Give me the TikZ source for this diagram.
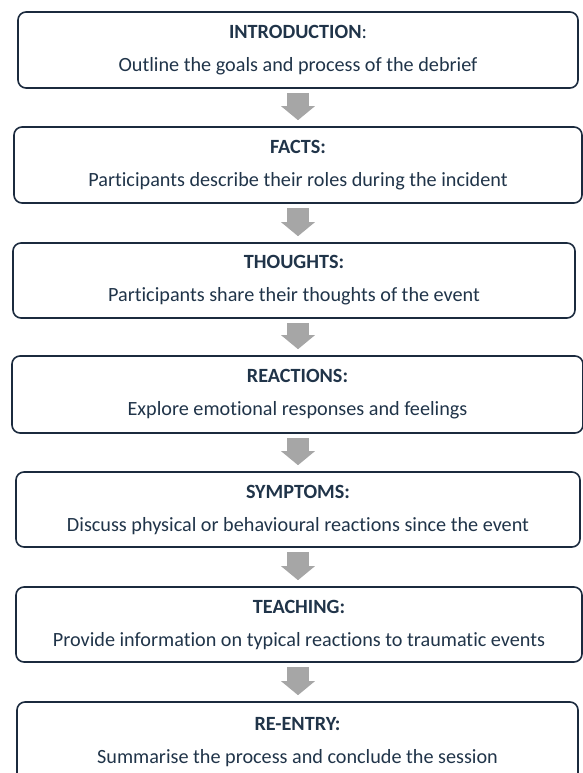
\documentclass[tikz,border=0pt]{standalone}
\usepackage{fontspec}
\setmainfont{Carlito}[Ligatures=CommonOff]
\usetikzlibrary{arrows.meta,positioning}
\definecolor{navy}{HTML}{1B2A3E}
\definecolor{inktext}{HTML}{203449}
\definecolor{flowgrey}{HTML}{A6A6A6}

\begin{document}
\begin{tikzpicture}[
  x=1pt, y=-1pt,
  stage/.style={draw=navy, line width=1.6pt, rounded corners=8pt, minimum height=76pt, align=center, text=inktext, font=\fontsize{20.2}{24}\selectfont, inner sep=0pt},
  flow/.style={-{Triangle[length=14pt, width=33pt]}, draw=flowgrey, line width=22pt, shorten <=4pt, shorten >=6pt}
]
\useasboundingbox (0,0) rectangle (583,773);
\node[stage, minimum width=560pt] (intro) at (298,50) {\textbf{INTRODUCTION}:\\[9pt] Outline the goals and process of the debrief};
\node[stage, minimum width=568pt] (facts) at (298,165) {\textbf{FACTS:}\\[9pt] Participants describe their roles during the incident};
\node[stage, minimum width=562pt, minimum height=75pt] (thoughts) at (294,280.5) {\textbf{THOUGHTS:}\\[9pt] Participants share their thoughts of the event};
\node[stage, minimum width=571pt, minimum height=77pt] (reactions) at (297.5,394.5) {\textbf{REACTIONS:}\\[9pt] Explore emotional responses and feelings};
\node[stage, minimum width=564pt, minimum height=75pt] (symptoms) at (298,509.5) {\textbf{SYMPTOMS:}\\[9pt] Discuss physical or behavioural reactions since the event};
\node[stage, minimum width=566pt, minimum height=75pt] (teaching) at (299,624.5) {\textbf{TEACHING:}\\[9pt] Provide information on typical reactions to traumatic events};
\node[stage, minimum width=561pt, minimum height=80pt] (reentry) at (297.5,742) {\textbf{RE-ENTRY:}\\[9pt] Summarise the process and conclude the session};
\draw[flow] (intro) -- (facts);
\draw[flow] (facts) -- (thoughts.north -| facts.south);
\draw[flow] (thoughts.south -| facts.south) -- (reactions.north -| facts.south);
\draw[flow] (reactions.south -| facts.south) -- (symptoms.north -| facts.south);
\draw[flow] (symptoms) -- (teaching.north -| symptoms.south);
\draw[flow] (teaching.south -| symptoms.south) -- (reentry.north -| symptoms.south);
\end{tikzpicture}
\end{document}
